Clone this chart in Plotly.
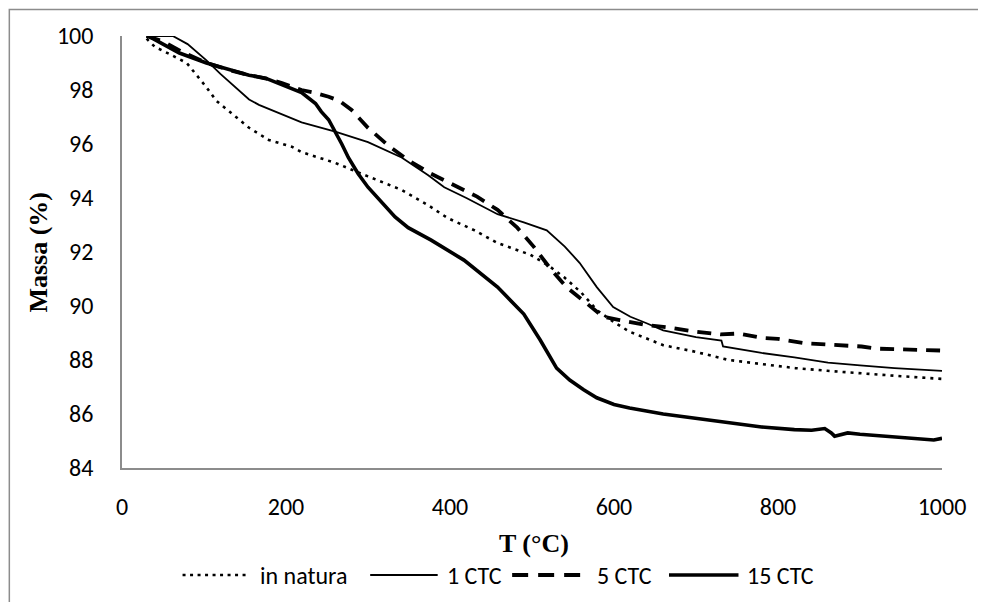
"""TGA curves (Massa % vs T) for in natura, 1 CTC, 5 CTC and 15 CTC samples."""

import plotly.graph_objects as go

# Series data
T_NATURA = [30, 40, 60, 79, 103, 115, 131, 155, 179, 207, 219, 260, 300, 341, 373,
            397, 430, 458, 498, 520, 539, 560, 579, 600, 619, 640, 660, 700, 740,
            780, 821, 860, 902, 950, 1000]
M_NATURA = [99.9, 99.6, 99.3, 99.0, 98.1, 97.6, 97.2, 96.6, 96.15, 95.9, 95.7, 95.3,
            94.8, 94.3, 93.74, 93.26, 92.8, 92.33, 91.9, 91.5, 91.07, 90.5, 89.85,
            89.4, 89.05, 88.8, 88.55, 88.3, 88.0, 87.85, 87.7, 87.6, 87.5, 87.4, 87.3]

T_1CTC = [30, 45, 62, 80, 103, 120, 140, 155, 167, 179, 219, 260, 300, 341, 373, 393,
          420, 458, 490, 518, 540, 558, 579, 599, 620, 639, 660, 700, 731, 733, 780,
          820, 861, 900, 942, 1000]
M_1CTC = [100, 100, 100, 99.7, 99.1, 98.6, 98.05, 97.65, 97.45, 97.3, 96.8, 96.46,
          96.07, 95.5, 94.85, 94.4, 94.0, 93.4, 93.1, 92.8, 92.2, 91.6, 90.7, 89.96,
          89.6, 89.37, 89.1, 88.85, 88.72, 88.5, 88.26, 88.1, 87.9, 87.8, 87.7, 87.6]

T_5CTC = [30, 50, 74, 103, 131, 155, 179, 195, 219, 235, 252, 265, 280, 300, 324, 349,
          377, 405, 433, 458, 482, 502, 522, 542, 567, 587, 607, 639, 667, 700, 730,
          752, 780, 800, 833, 869, 902, 921, 954, 982, 1000]
M_5CTC = [100, 99.8, 99.4, 99.0, 98.74, 98.55, 98.4, 98.26, 98.0, 97.9, 97.75, 97.6,
          97.26, 96.6, 95.96, 95.4, 94.9, 94.48, 94.05, 93.56, 92.9, 92.2, 91.4, 90.7,
          90.1, 89.6, 89.48, 89.3, 89.2, 89.05, 88.95, 88.98, 88.82, 88.78, 88.62,
          88.55, 88.5, 88.42, 88.38, 88.37, 88.35]

T_15CTC = [30, 34, 50, 70, 103, 131, 155, 175, 195, 219, 236, 243, 252, 260, 268, 276,
           288, 300, 318, 333, 349, 377, 417, 458, 490, 510, 530, 546, 563, 579, 600,
           619, 660, 700, 740, 780, 820, 841, 857, 865, 869, 885, 900, 942, 970, 990,
           1000]
M_15CTC = [100, 99.97, 99.7, 99.37, 99.0, 98.74, 98.55, 98.44, 98.2, 97.9, 97.5, 97.2,
           96.9, 96.46, 96.0, 95.5, 94.9, 94.4, 93.8, 93.3, 92.9, 92.44, 91.7, 90.7,
           89.7, 88.74, 87.7, 87.26, 86.9, 86.6, 86.35, 86.22, 86.0, 85.85, 85.7,
           85.52, 85.42, 85.4, 85.46, 85.3, 85.18, 85.3, 85.25, 85.15, 85.1, 85.04, 85.1]

LEGEND_LABELS = ["in natura", "1 CTC", "5 CTC", "15 CTC"]
X_TITLE = "T (°C)"
Y_TITLE = "Massa (%)"

BLACK = "#000000"
AXIS_GRAY = "#8c8c8c"
BORDER_GRAY = "#8c8c8c"
TICK_FONT = "Calibri, Carlito, Lato, sans-serif"
TITLE_FONT = "Times New Roman, Liberation Serif, serif"
TICK_SIZE = 24

# line styles per series (dash, width)
STYLES = [
    ("3px,5px", 2.6),
    ("solid", 1.8),
    ("14px,9px", 3.8),
    ("solid", 3.6),
]

SERIES = [
    (T_NATURA, M_NATURA),
    (T_1CTC, M_1CTC),
    (T_5CTC, M_5CTC),
    (T_15CTC, M_15CTC),
]

fig = go.Figure()
for (t, m), name, (dash, width) in zip(SERIES, LEGEND_LABELS, STYLES):
    fig.add_trace(go.Scatter(
        x=t, y=m, mode="lines", name=name,
        line=dict(color=BLACK, width=width, dash=dash),
        showlegend=False,
    ))


# pixel helpers (page pixels -> paper coords); plot area spans x 122..948, y 36..468
def px_x(p):
    return (p - 122) / 826


def px_y(p):
    return (468 - p) / 432


# hand-built legend so the sample lines are as long as in the reference
legend_lines = [(183, 248), (372, 440), (515, 590), (673, 743)]
legend_text_x = [259, 447, 598, 750]
legend_dash = ["3px,4.5px", "solid", "16px,10px", "solid"]
legend_y = 575
shapes = []
annotations = []
for (x0, x1), tx, name, dash, (_, width) in zip(legend_lines, legend_text_x,
                                                LEGEND_LABELS, legend_dash, STYLES):
    shapes.append(dict(
        type="line", xref="paper", yref="paper",
        x0=px_x(x0), x1=px_x(x1), y0=px_y(legend_y), y1=px_y(legend_y),
        line=dict(color=BLACK, width=width, dash=dash),
    ))
    annotations.append(dict(
        text=name, xref="paper", yref="paper", x=px_x(tx), y=px_y(legend_y),
        xanchor="left", yanchor="middle", showarrow=False,
        font=dict(family=TICK_FONT, size=TICK_SIZE, color=BLACK),
    ))

# outer chart border
shapes.append(dict(
    type="rect", xref="paper", yref="paper",
    x0=px_x(8.5), x1=px_x(1000), y0=px_y(640), y1=px_y(9.5),
    line=dict(color=BORDER_GRAY, width=1.5), fillcolor="rgba(0,0,0,0)", layer="below",
))

annotations.append(dict(
    text=f"<b>{X_TITLE}</b>", xref="paper", yref="paper",
    x=px_x(537), y=px_y(543), xanchor="center", yanchor="middle", showarrow=False,
    font=dict(family=TITLE_FONT, size=26, color=BLACK),
))
annotations.append(dict(
    text=f"<b>{Y_TITLE}</b>", xref="paper", yref="paper",
    x=px_x(37), y=px_y(252), xanchor="center", yanchor="middle", showarrow=False,
    textangle=-90,
    font=dict(family=TITLE_FONT, size=26, color=BLACK),
))

# page body has an 8px margin, so the figure is sized/margined to land on page pixels
fig.update_layout(
    width=970,
    height=594,
    margin=dict(l=114, r=30, t=28, b=134),
    plot_bgcolor="#ffffff",
    paper_bgcolor="#ffffff",
    showlegend=False,
    shapes=shapes,
    annotations=annotations,
    xaxis=dict(
        range=[0, 1000],
        dtick=200,
        tick0=0,
        showgrid=False,
        zeroline=False,
        showline=True,
        linecolor=AXIS_GRAY,
        linewidth=1.5,
        ticks="",
        ticklabelstandoff=16,
        tickfont=dict(family=TICK_FONT, size=TICK_SIZE, color=BLACK),
    ),
    yaxis=dict(
        range=[84, 100],
        dtick=2,
        tick0=84,
        showgrid=False,
        zeroline=False,
        showline=True,
        linecolor=AXIS_GRAY,
        linewidth=1.5,
        ticks="",
        ticklabelstandoff=22,
        tickfont=dict(family=TICK_FONT, size=TICK_SIZE, color=BLACK),
    ),
)

fig.write_html("out.html")
